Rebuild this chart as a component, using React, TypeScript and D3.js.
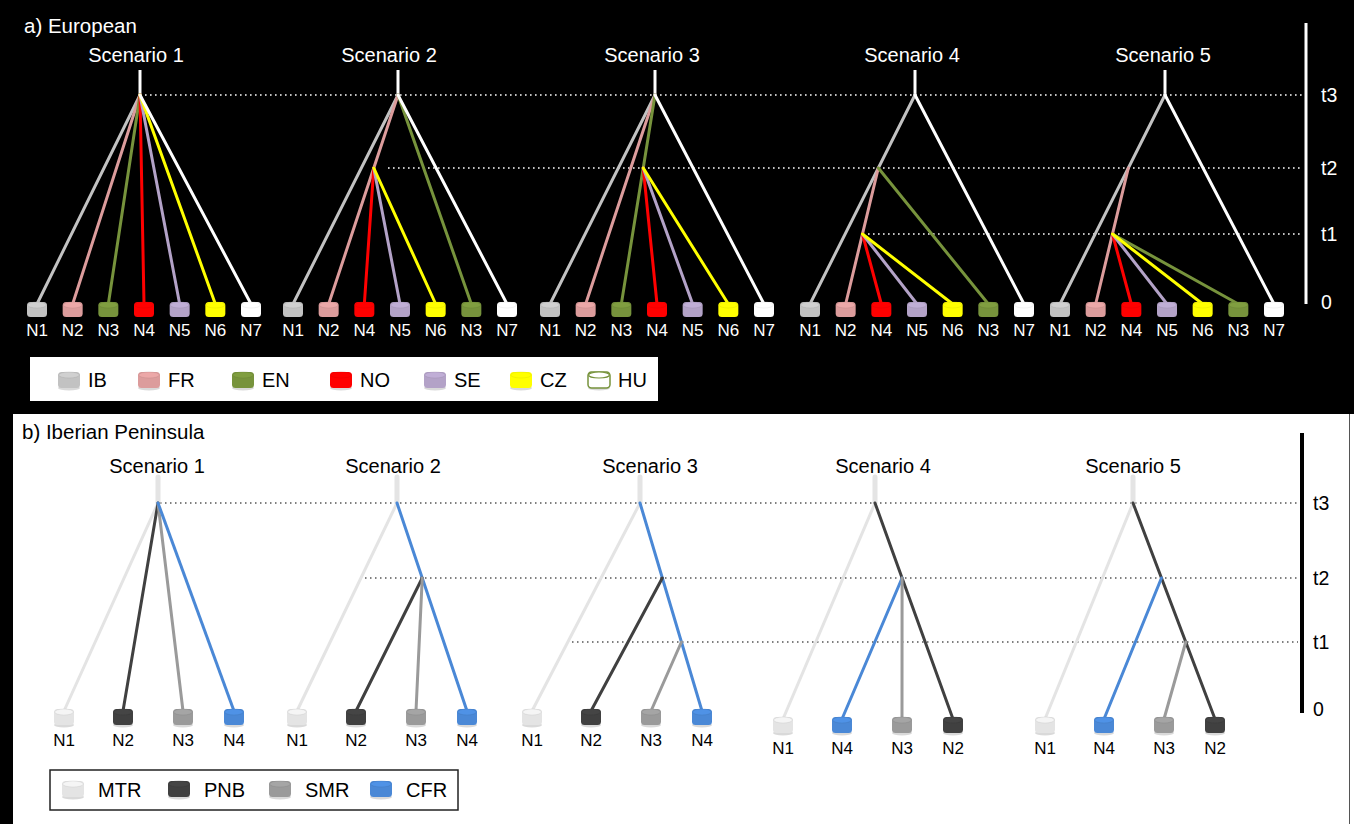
import React from "react";
import * as d3 from "d3";

// ---------------- data ----------------
const timeLevels = ["t3", "t2", "t1", "0"];
const scenarioTitles = ["Scenario 1", "Scenario 2", "Scenario 3", "Scenario 4", "Scenario 5"];

// European panel
const euPops = ["IB", "FR", "EN", "NO", "SE", "CZ", "HU"];
const euColors = ["#c2c2c2", "#dc9c9c", "#77933c", "#ff0000", "#b3a2c7", "#ffff00", "#ffffff"];
const euLeafOrders = [
  ["N1", "N2", "N3", "N4", "N5", "N6", "N7"],
  ["N1", "N2", "N4", "N5", "N6", "N3", "N7"],
  ["N1", "N2", "N3", "N4", "N5", "N6", "N7"],
  ["N1", "N2", "N4", "N5", "N6", "N3", "N7"],
  ["N1", "N2", "N4", "N5", "N6", "N3", "N7"],
];
// internal nodes: [id, time, parent, lineage it lies on]
const euNodes = [
  [],
  [["A", "t2", "root", "N2"]],
  [["A", "t2", "root", "N3"]],
  [["A", "t2", "root", "N1"], ["B", "t1", "A", "N2"]],
  [["A", "t2", "root", "N1"], ["B", "t1", "A", "N2"]],
];
// edges: [leaf, parent]
const euEdges = [
  [["N1", "root"], ["N2", "root"], ["N3", "root"], ["N4", "root"], ["N5", "root"], ["N6", "root"], ["N7", "root"]],
  [["N1", "root"], ["N2", "root"], ["N3", "root"], ["N7", "root"], ["N4", "A"], ["N5", "A"], ["N6", "A"]],
  [["N1", "root"], ["N2", "root"], ["N3", "root"], ["N7", "root"], ["N4", "A"], ["N5", "A"], ["N6", "A"]],
  [["N1", "root"], ["N7", "root"], ["N2", "A"], ["N3", "A"], ["N4", "B"], ["N5", "B"], ["N6", "B"]],
  [["N1", "root"], ["N7", "root"], ["N2", "A"], ["N3", "B"], ["N4", "B"], ["N5", "B"], ["N6", "B"]],
];

// Iberian panel
const ibPops = ["MTR", "PNB", "SMR", "CFR"];
const ibColors = ["#e4e4e4", "#404040", "#9a9a9a", "#4a88d6"];
const ibLeafOrders = [
  ["N1", "N2", "N3", "N4"],
  ["N1", "N2", "N3", "N4"],
  ["N1", "N2", "N3", "N4"],
  ["N1", "N4", "N3", "N2"],
  ["N1", "N4", "N3", "N2"],
];
const ibNodes = [
  [],
  [["A", "t2", "root", "N4"]],
  [["A", "t2", "root", "N4"], ["B", "t1", "A", "N4"]],
  [["A", "t2", "root", "N2"]],
  [["A", "t2", "root", "N2"], ["B", "t1", "A", "N2"]],
];
const ibEdges = [
  [["N1", "root"], ["N2", "root"], ["N3", "root"], ["N4", "root"]],
  [["N1", "root"], ["N4", "root"], ["N2", "A"], ["N3", "A"]],
  [["N1", "root"], ["N4", "root"], ["N2", "A"], ["N3", "B"]],
  [["N1", "root"], ["N2", "root"], ["N4", "A"], ["N3", "A"]],
  [["N1", "root"], ["N2", "root"], ["N4", "A"], ["N3", "B"]],
];

// ---------------- layout ----------------
const W = 1354;
const H = 824;
const FONT = "'Liberation Sans', Arial, Helvetica, sans-serif";

const euY = d3.scaleOrdinal<string, number>().domain(timeLevels).range([95, 168, 234, 302]);
const euRootX = [140, 398, 655, 915, 1165];
const euLeafStart = [37, 293, 550, 810, 1060];
const euTitleX = [136, 389, 652, 912, 1163];
const euDots = [["t3", 145], ["t2", 388], ["t1", 868]];
const euLegendX = [58, 138, 232, 330, 424, 510, 588];

const ibY = d3.scaleOrdinal<string, number>().domain(timeLevels).range([503, 578, 642, 709]);
const ibRootX = [158, 397, 640, 875, 1133];
const ibLeafStart = [64, 297, 532, 783, 1045];
const ibLeafTop = [709, 709, 709, 717, 717];
const ibTitleX = [157, 393, 650, 883, 1133];
const ibDots = [["t3", 160], ["t2", 365], ["t1", 572]];
const ibLegendX = [62, 168, 269, 370];

function Cyl({ cx, top, w = 20, h = 15, color, outline = false, shadow = false }: any) {
  const c = d3.color(color) as any;
  const topFill = outline ? "#ffffff" : c.brighter(0.2).formatHex();
  const edge = outline ? color : c.darker(0.6).formatHex();
  return (
    <g>
      {shadow && <ellipse cx={cx} cy={top + h} rx={w / 2} ry={2.5} fill="#000" opacity={0.15} />}
      <rect x={cx - w / 2} y={top} width={w} height={h} rx={3.5} fill={outline ? "#fff" : color}
        stroke={outline ? color : "none"} strokeWidth={outline ? 1.5 : 0} />
      <ellipse cx={cx} cy={top + 3} rx={w / 2 - 0.6} ry={3} fill={topFill} stroke={edge}
        strokeOpacity={outline ? 1 : 0.35} strokeWidth={outline ? 1.2 : 0.8} />
    </g>
  );
}

function Tree({ rootX, rootY, leafX, leafTop, nodes, edges, colorOf, yOf, labelColor, labelDy, cylW, cylH, shadow, strokeW }: any) {
  const pos: Record<string, { x: number; y: number }> = { root: { x: rootX, y: rootY } };
  const leafNames: string[] = leafX.domain();
  leafNames.forEach((n: string) => { pos[n] = { x: leafX(n), y: leafTop + 2 }; });
  nodes.forEach(([id, t, parent, toward]: any) => {
    const P = pos[parent];
    const L = pos[toward];
    const y = yOf(t);
    pos[id] = { x: P.x + ((L.x - P.x) * (y - P.y)) / (L.y - P.y), y };
  });
  return (
    <g>
      {edges.map(([leaf, parent]: any, i: number) => (
        <line key={i} x1={pos[parent].x} y1={pos[parent].y} x2={pos[leaf].x} y2={pos[leaf].y}
          stroke={colorOf(leaf)} strokeWidth={strokeW} strokeLinecap="round" />
      ))}
      {leafNames.map((n: string) => (
        <g key={n}>
          <Cyl cx={leafX(n)} top={leafTop} w={cylW} h={cylH} color={colorOf(n)} shadow={shadow} />
          <text x={leafX(n)} y={leafTop + labelDy} textAnchor="middle" fontSize={17} fill={labelColor}>{n}</text>
        </g>
      ))}
    </g>
  );
}

export default function App() {
  const euColorOf = (n: string) => euColors[+n.slice(1) - 1];
  const ibColorOf = (n: string) => ibColors[+n.slice(1) - 1];
  const ibOffsets = d3.scaleLinear().domain([0, 1, 2, 3]).range([0, 59, 119, 170]);

  return (
    <svg width={W} height={H} style={{ position: "absolute", left: 0, top: 0, display: "block" }} fontFamily={FONT}>
      <rect x={0} y={0} width={W} height={H} fill="#000" />
      {/* bottom panel */}
      <rect x={13} y={414} width={W - 13} height={H - 414} fill="#fff" />
      <line x1={1349.5} y1={414} x2={1349.5} y2={H} stroke="#555" strokeWidth={1} />

      {/* ---------- a) European ---------- */}
      <text x={24} y={33} fontSize={20.5} fill="#fff">a) European</text>
      {euDots.map(([t, x0]: any) => (
        <line key={t} x1={x0} x2={1302} y1={euY(t)} y2={euY(t)} stroke="#fff" strokeWidth={1.6} strokeDasharray="1.6,3.4" />
      ))}
      <line x1={1306} x2={1306} y1={23} y2={304} stroke="#fff" strokeWidth={3} />
      {timeLevels.map((t) => (
        <text key={t} x={1321} y={euY(t) + 7} fontSize={19.5} fill="#fff">{t}</text>
      ))}
      {scenarioTitles.map((s, i) => {
        const leafX = d3.scalePoint<string>().domain(euLeafOrders[i]).range([euLeafStart[i], euLeafStart[i] + 214]);
        return (
          <g key={s}>
            <text x={euTitleX[i]} y={62} fontSize={20} fill="#fff" textAnchor="middle">{s}</text>
            <line x1={euRootX[i]} x2={euRootX[i]} y1={70} y2={euY("t3")} stroke="#fff" strokeWidth={3} />
            <Tree rootX={euRootX[i]} rootY={euY("t3")} leafX={leafX} leafTop={302} nodes={euNodes[i]} edges={euEdges[i]}
              colorOf={euColorOf} yOf={euY} labelColor="#fff" labelDy={34} cylW={20} cylH={15} shadow={false} strokeW={3} />
          </g>
        );
      })}
      {/* legend a */}
      <rect x={30} y={357} width={628} height={44} fill="#fff" />
      {euPops.map((p, i) => (
        <g key={p}>
          <Cyl cx={euLegendX[i] + 11} top={372} w={22} h={16} color={euColors[i] === "#ffffff" ? "#77933c" : euColors[i]}
            outline={euColors[i] === "#ffffff"} shadow={true} />
          <text x={euLegendX[i] + 30} y={387} fontSize={20} fill="#000">{p}</text>
        </g>
      ))}

      {/* ---------- b) Iberian Peninsula ---------- */}
      <text x={22} y={439} fontSize={20.5} fill="#000">b) Iberian Peninsula</text>
      {ibDots.map(([t, x0]: any) => (
        <line key={t} x1={x0} x2={1298} y1={ibY(t)} y2={ibY(t)} stroke="#555" strokeWidth={1.5} strokeDasharray="1.5,3.5" />
      ))}
      <line x1={1302} x2={1302} y1={433} y2={713} stroke="#000" strokeWidth={4} />
      {timeLevels.map((t) => (
        <text key={t} x={1313} y={ibY(t) + 7} fontSize={19.5} fill="#000">{t}</text>
      ))}
      {scenarioTitles.map((s, i) => {
        const order = ibLeafOrders[i];
        const leafX: any = (n: string) => ibLeafStart[i] + ibOffsets(order.indexOf(n));
        leafX.domain = () => order;
        return (
          <g key={s}>
            <text x={ibTitleX[i]} y={473} fontSize={20} fill="#000" textAnchor="middle">{s}</text>
            <line x1={ibRootX[i]} x2={ibRootX[i]} y1={477} y2={ibY("t3")} stroke="#e4e4e4" strokeWidth={5} strokeLinecap="round" />
            <Tree rootX={ibRootX[i]} rootY={ibY("t3")} leafX={leafX} leafTop={ibLeafTop[i]} nodes={ibNodes[i]} edges={ibEdges[i]}
              colorOf={ibColorOf} yOf={ibY} labelColor="#000" labelDy={37} cylW={20} cylH={16} shadow={true} strokeW={3} />
          </g>
        );
      })}
      {/* legend b */}
      <rect x={50} y={770} width={408} height={40} fill="#fff" stroke="#222" strokeWidth={1.5} />
      {ibPops.map((p, i) => (
        <g key={p}>
          <Cyl cx={ibLegendX[i] + 11} top={781} w={22} h={16} color={ibColors[i]} shadow={true} />
          <text x={ibLegendX[i] + 36} y={797} fontSize={20} fill="#000">{p}</text>
        </g>
      ))}
    </svg>
  );
}
